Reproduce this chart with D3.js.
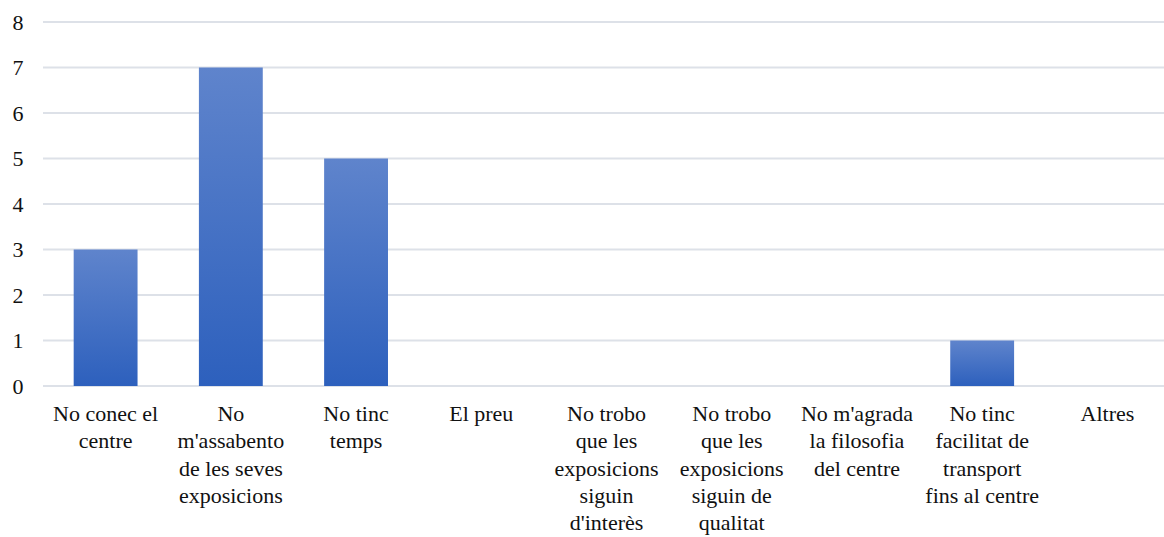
<!DOCTYPE html>
<html><head><meta charset="utf-8">
<script src="https://cdn.jsdelivr.net/npm/d3@7"></script>
</head><body style="margin:0">
<script>
const categories = [
  ["No conec el","centre"],
  ["No","m'assabento","de les seves","exposicions"],
  ["No tinc","temps"],
  ["El preu"],
  ["No trobo","que les","exposicions","siguin","d'interès"],
  ["No trobo","que les","exposicions","siguin de","qualitat"],
  ["No m'agrada","la filosofia","del centre"],
  ["No tinc","facilitat de","transport","fins al centre"],
  ["Altres"]
];
const values = [3, 7, 5, 0, 0, 0, 0, 1, 0];
const yTicks = [0,1,2,3,4,5,6,7,8];

const W = 1164, H = 537;
const FONT = "'Liberation Serif', 'Times New Roman', Tinos";
const mLeft = 43, mRight = 1170, mTop = 22, mBottom = 386;
const svg = d3.select("body").append("svg").attr("width", W).attr("height", H)
  .style("display", "block").style("font-family", FONT);

const defs = svg.append("defs");
const grad = defs.append("linearGradient").attr("id","g").attr("x1",0).attr("y1",0).attr("x2",0).attr("y2",1);
grad.append("stop").attr("offset","0%").attr("stop-color","#5f84cc");
grad.append("stop").attr("offset","100%").attr("stop-color","#2d60bd");

const x = d3.scaleBand().domain(d3.range(categories.length)).range([mLeft, mRight]).paddingInner(0.49).paddingOuter(0.245);
const y = d3.scaleLinear().domain([0, 8]).range([mBottom, mTop]);

svg.append("g").selectAll("line").data(yTicks).join("line")
  .attr("x1", mLeft).attr("x2", W)
  .attr("y1", d => y(d)).attr("y2", d => y(d))
  .attr("stroke", "#dde1e8").attr("stroke-width", 2);

svg.append("g").selectAll("text").data(yTicks).join("text")
  .attr("x", 18).attr("y", d => y(d)).attr("dy", "0.35em")
  .attr("text-anchor", "middle")
  .style("font-family", FONT).style("font-size", "22px")
  .attr("fill", "#111").text(d => d);

svg.append("g").selectAll("rect").data(values).join("rect")
  .attr("x", (d,i) => x(i)).attr("width", x.bandwidth())
  .attr("y", d => y(d)).attr("height", d => y(0) - y(d))
  .attr("fill", "url(#g)");

const lab = svg.append("g").selectAll("text").data(categories).join("text")
  .attr("text-anchor", "middle")
  .style("font-family", FONT).style("font-size", "22px")
  .attr("fill", "#111")
  .attr("transform", (d,i) => `translate(${x(i) + x.bandwidth()/2},421)`);
lab.selectAll("tspan").data(d => d).join("tspan")
  .attr("x", 0).attr("y", (d,j) => j*27.3).text(d => d);
</script>
</body></html>
